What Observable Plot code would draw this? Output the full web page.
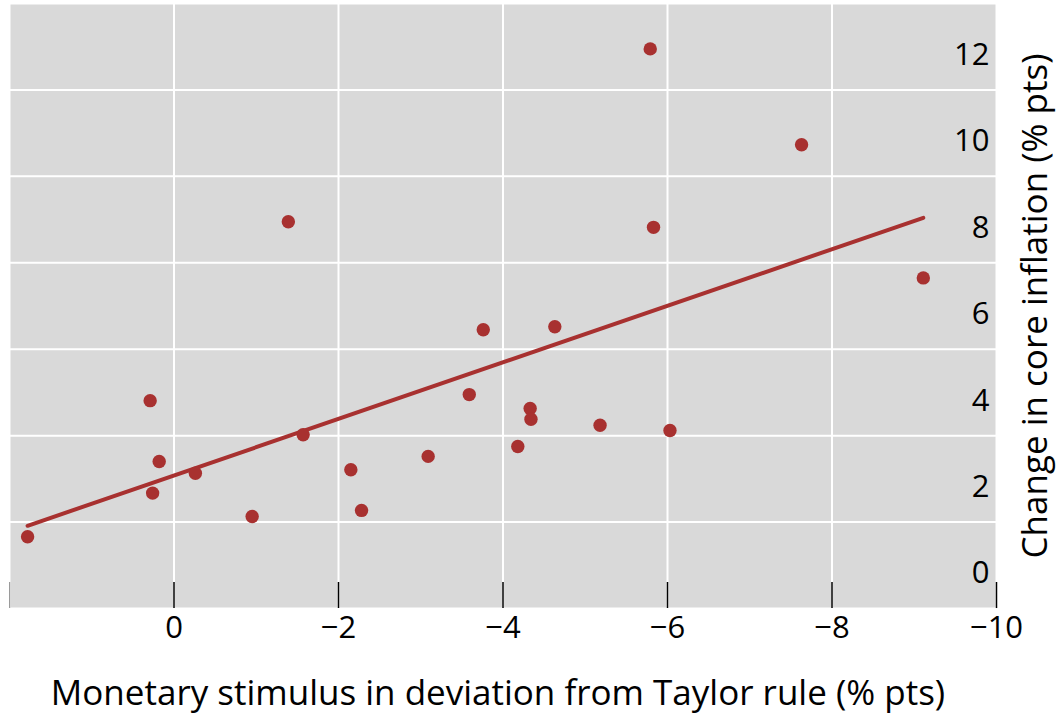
<!DOCTYPE html>
<html>
<head>
<meta charset="utf-8">
<script src="https://cdn.jsdelivr.net/npm/d3@7"></script>
<script src="https://cdn.jsdelivr.net/npm/@observablehq/plot@0.6"></script>
<style>
  html, body { margin: 0; padding: 0; background: #ffffff; overflow: hidden; }
</style>
</head>
<body>
<div id="chart"></div>
<script>
// Monetary stimulus (deviation from Taylor rule, % pts) and change in core inflation (% pts)
const stimulus = [1.78, 0.29, 0.18, 0.26, -0.26, -0.95, -1.39, -1.57, -2.15, -2.28, -3.09, -3.59,
                  -3.76, -4.18, -4.33, -4.34, -4.63, -5.18, -5.79, -5.83, -6.03, -7.63, -9.11];
const coreInflation = [1.66, 4.81, 3.40, 2.67, 3.13, 2.13, 8.95, 4.02, 3.21, 2.27, 3.52, 4.95,
                       6.45, 3.75, 4.63, 4.38, 6.52, 4.24, 12.95, 8.82, 4.12, 10.73, 7.65];

const xEdgeTick = [2];
const xTickValues = [0, -2, -4, -6, -8, -10];
const xGridValues = [2, 0, -2, -4, -6, -8, -10];
const yGridValues = [0, 2, 4, 6, 8, 10, 12, 14];
const yLabelValues = [0, 2, 4, 6, 8, 10, 12];

const xTitle = "Monetary stimulus in deviation from Taylor rule (% pts)";
const yTitle = "Change in core inflation (% pts)";

const points = stimulus.map((x, i) => ({x, y: coreInflation[i]}));

const red = "#a83130";
const font = "'Open Sans', 'Noto Sans', sans-serif";
const fs = 31;
const titleFs = 35;

const chart = Plot.plot({
  width: 1061,
  height: 718,
  marginLeft: 9,
  marginRight: 65,
  marginTop: 3,
  marginBottom: 110,
  style: {fontFamily: font, fontSize: fs + "px", color: "black", background: "white"},
  x: {domain: [2, -10]},
  y: {domain: [0, 14]},
  marks: [
    Plot.frame({fill: "#d9d9d9", stroke: "none"}),
    Plot.gridX(xGridValues, {stroke: "white", strokeOpacity: 1, strokeWidth: 2}),
    Plot.gridY(yGridValues, {stroke: "white", strokeOpacity: 1, strokeWidth: 2}),
    Plot.tickX(xEdgeTick, {x: d => d, stroke: "#9a9a9a", strokeWidth: 1.5, insetTop: 579, clip: true}),
    Plot.tickX(xTickValues, {x: d => d, stroke: "black", strokeWidth: 1.5, insetTop: 579}),
    Plot.axisX(xTickValues, {tickSize: 0, tickPadding: 7, fontSize: fs, label: null}),
    Plot.axisY(yLabelValues, {anchor: "right", tickSize: 0, tickPadding: -7, textAnchor: "end", dy: -35, fontSize: fs, label: null}),
    Plot.linearRegressionY(points, {x: "x", y: "y", ci: 0, stroke: red, strokeWidth: 4}),
    Plot.dot(points, {x: "x", y: "y", r: 6.7, fill: red, stroke: "none"}),
    Plot.text([xTitle], {text: d => d, frameAnchor: "bottom", textAnchor: "middle", lineAnchor: "middle", dx: -5, dy: 85, fontSize: titleFs}),
    Plot.text([yTitle], {text: d => d, frameAnchor: "right", textAnchor: "middle", lineAnchor: "middle", rotate: -90, dx: 39, dy: 0, fontSize: titleFs})
  ]
});
document.getElementById("chart").appendChild(chart);
</script>
</body>
</html>
